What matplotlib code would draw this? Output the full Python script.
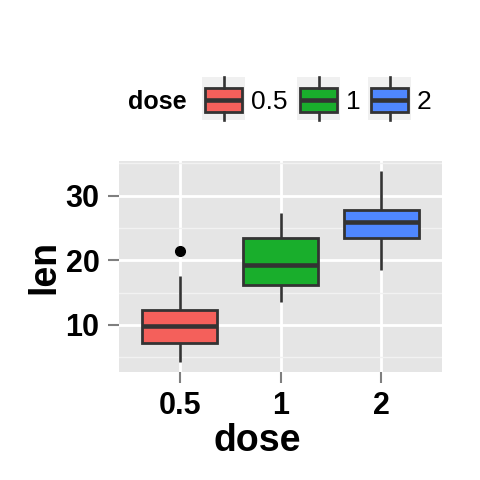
#Import libraries
import matplotlib
matplotlib.use("Agg")
import matplotlib.pyplot as plt
from matplotlib.patches import Rectangle
from matplotlib.lines import Line2D

plt.rcParams["font.family"] = ["Liberation Sans", "DejaVu Sans"]

#Data (tooth length by dose)
doses = ["0.5", "1", "2"]
whisker_low = [4.2, 13.6, 18.5]
q1 = [7.2, 16.25, 23.5]
median = [9.85, 19.25, 25.95]
q3 = [12.25, 23.4, 27.8]
whisker_high = [17.6, 27.3, 33.9]
outliers = [[21.5], [], []]

#Fill colours for each dose
colors = ["#F4605B", "#19AE2C", "#4F87FF"]
edge = "#333333"

#Build the box statistics for bxp
stats = []
for i in range(len(doses)):
    stats.append({
        "label": doses[i],
        "whislo": whisker_low[i],
        "q1": q1[i],
        "med": median[i],
        "q3": q3[i],
        "whishi": whisker_high[i],
        "fliers": outliers[i],
    })

fig = plt.figure(figsize=(4.8, 4.8), dpi=100)
ax = fig.add_axes([119 / 480, 1 - 372 / 480, 323 / 480, 211 / 480])
ax.set_facecolor("#E5E5E5")

bp = ax.bxp(
    stats,
    positions=[1, 2, 3],
    widths=0.75,
    patch_artist=True,
    showcaps=False,
    boxprops=dict(edgecolor=edge, linewidth=2),
    medianprops=dict(color=edge, linewidth=3.3, solid_capstyle="butt"),
    whiskerprops=dict(color=edge, linewidth=1.9, solid_capstyle="butt"),
    flierprops=dict(marker="o", markerfacecolor="black", markeredgecolor="black", markersize=7),
    zorder=3,
)
for patch, c in zip(bp["boxes"], colors):
    patch.set_facecolor(c)

#Axis limits like ggplot expansion
ax.set_xlim(0.4, 3.6)
ax.set_ylim(2.715, 35.385)
ax.set_xticks([1, 2, 3])
ax.set_xticklabels(doses)
ax.set_yticks([10, 20, 30])
ax.set_yticks([5, 15, 25, 35], minor=True)

#Grid lines
ax.set_axisbelow(True)
ax.grid(which="major", color="white", linewidth=2)
ax.grid(which="minor", axis="y", color="#F2F2F2", linewidth=1)
for s in ax.spines.values():
    s.set_visible(False)

ax.tick_params(which="major", length=8, width=1.5, color="#7F7F7F", pad=6,
               labelsize=22)
ax.tick_params(which="minor", length=0)
for lab in ax.get_xticklabels() + ax.get_yticklabels():
    lab.set_fontweight("bold")

#Axis titles
ax.set_xlabel("dose", fontsize=27, fontweight="bold")
ax.set_ylabel("len", fontsize=27, fontweight="bold")
ax.xaxis.label.set_va("center")
ax.yaxis.label.set_va("center")
ax.xaxis.set_label_coords((257 - 119) / 323, (372 - 441) / 211)
ax.yaxis.set_label_coords((44 - 119) / 323, 0.5)

#Legend drawn on an overlay in pixel units
lax = fig.add_axes([0, 0, 1, 1])
lax.set_xlim(0, 480)
lax.set_ylim(480, 0)
lax.axis("off")

lax.text(128, 102, "dose", fontsize=18, fontweight="bold", ha="left", va="center")
key_x = [202, 297, 368]
key_y, key_w, key_h = 77, 43, 43
for i in range(len(doses)):
    x0 = key_x[i]
    cx = x0 + key_w / 2
    lax.add_patch(Rectangle((x0, key_y), key_w, key_h, facecolor="#F0F0F0", edgecolor="none"))
    lax.add_line(Line2D([cx, cx], [key_y, key_y + 11], color=edge, linewidth=1.9))
    lax.add_line(Line2D([cx, cx], [key_y + key_h - 8, key_y + key_h], color=edge, linewidth=1.9))
    lax.add_patch(Rectangle((x0 + 3, key_y + 11), key_w - 6, key_h - 19,
                            facecolor=colors[i], edgecolor=edge, linewidth=2))
    lax.add_line(Line2D([x0 + 3, x0 + key_w - 3], [key_y + 23, key_y + 23],
                        color=edge, linewidth=3.3, solid_capstyle="butt"))
    lax.text(x0 + key_w + 6, 102, doses[i], fontsize=19, ha="left", va="center")

fig.savefig("out.png", dpi=100)
